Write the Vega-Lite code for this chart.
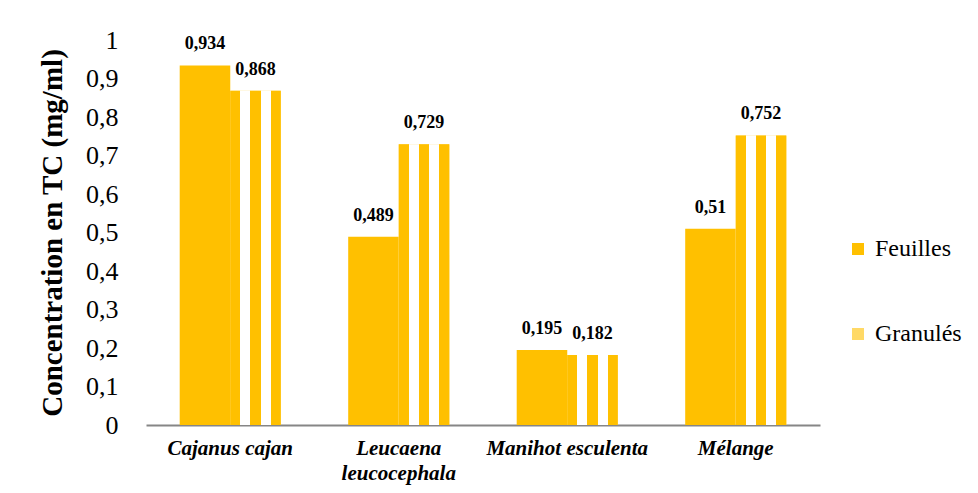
{
  "$schema": "https://vega.github.io/schema/vega-lite/v6.json",
  "width": 674,
  "height": 385,
  "autosize": {"type": "none"},
  "padding": {"left": 146, "top": 40, "right": 158, "bottom": 68},
  "background": "white",
  "config": {
    "view": {"stroke": null},
    "font": "Times New Roman",
    "locale": {"number": {"decimal": ",", "thousands": " ", "grouping": [3], "currency": ["", " €"]}}
  },
  "data": {
    "values": [
      {"espece": "Cajanus cajan", "forme": "Feuilles", "conc": 0.934},
      {"espece": "Cajanus cajan", "forme": "Granulés", "conc": 0.868},
      {"espece": "Leucaena leucocephala", "forme": "Feuilles", "conc": 0.489},
      {"espece": "Leucaena leucocephala", "forme": "Granulés", "conc": 0.729},
      {"espece": "Manihot esculenta", "forme": "Feuilles", "conc": 0.195},
      {"espece": "Manihot esculenta", "forme": "Granulés", "conc": 0.182},
      {"espece": "Mélange", "forme": "Feuilles", "conc": 0.51},
      {"espece": "Mélange", "forme": "Granulés", "conc": 0.752}
    ]
  },
  "encoding": {
    "x": {
      "field": "espece",
      "type": "nominal",
      "sort": ["Cajanus cajan", "Leucaena leucocephala", "Manihot esculenta", "Mélange"],
      "scale": {"paddingInner": 0.4, "paddingOuter": 0.2},
      "axis": {
        "title": null,
        "labelAngle": 0,
        "labelFont": "Times New Roman",
        "labelFontWeight": "bold",
        "labelFontStyle": "italic",
        "labelFontSize": 21,
        "labelColor": "black",
        "labelPadding": 12,
        "labelLineHeight": 25,
        "labelExpr": "datum.value == 'Leucaena leucocephala' ? ['Leucaena', 'leucocephala'] : datum.value",
        "ticks": false,
        "domainColor": "#868686",
        "domainWidth": 2,
        "grid": false
      }
    },
    "xOffset": {"field": "forme", "type": "nominal", "sort": ["Feuilles", "Granulés"]},
    "y": {
      "field": "conc",
      "type": "quantitative",
      "scale": {"domain": [0, 1], "nice": false},
      "axis": {
        "title": "Concentration en TC (mg/ml)",
        "titleFont": "Times New Roman",
        "titleFontSize": 29,
        "titleFontWeight": "bold",
        "titleColor": "black",
        "titlePadding": 18,
        "values": [0, 0.1, 0.2, 0.3, 0.4, 0.5, 0.6, 0.7, 0.8, 0.9, 1],
        "format": ".1~f",
        "labelFont": "Times New Roman",
        "labelFontSize": 26,
        "labelColor": "black",
        "labelPadding": 28,
        "domain": false,
        "ticks": false,
        "grid": false
      }
    }
  },
  "layer": [
    {
      "mark": {"type": "bar"},
      "encoding": {
        "color": {
          "field": "forme",
          "type": "nominal",
          "sort": ["Feuilles", "Granulés"],
          "scale": {"domain": ["Feuilles", "Granulés"], "range": ["#FFC000", "#FFD966"]},
          "legend": {
            "title": null,
            "orient": "none",
            "legendX": 700,
            "legendY": 197,
            "symbolType": "square",
            "symbolSize": 144,
            "symbolStrokeWidth": 0,
            "symbolOpacity": 1,
            "labelFont": "Times New Roman",
            "labelFontSize": 24,
            "labelColor": "black",
            "labelOffset": 5,
            "rowPadding": 61
          }
        }
      }
    },
    {
      "transform": [{"filter": "datum.forme == 'Granulés'"}],
      "mark": {
        "type": "bar",
        "fill": {
          "gradient": "linear",
          "x1": 0, "y1": 0, "x2": 1, "y2": 0,
          "stops": [
            {"offset": 0, "color": "#FFC000"},
            {"offset": 0.2, "color": "#FFC000"},
            {"offset": 0.2, "color": "#FFFFFF"},
            {"offset": 0.4, "color": "#FFFFFF"},
            {"offset": 0.4, "color": "#FFC000"},
            {"offset": 0.6, "color": "#FFC000"},
            {"offset": 0.6, "color": "#FFFFFF"},
            {"offset": 0.8, "color": "#FFFFFF"},
            {"offset": 0.8, "color": "#FFC000"},
            {"offset": 1, "color": "#FFC000"}
          ]
        }
      },
      "encoding": {}
    },
    {
      "mark": {"type": "text", "baseline": "alphabetic", "dy": -16, "fontWeight": "bold", "fontSize": 18, "font": "Times New Roman", "color": "black"},
      "encoding": {
        "text": {"field": "conc", "type": "quantitative", "format": ".3~f"}
      }
    }
  ]
}
